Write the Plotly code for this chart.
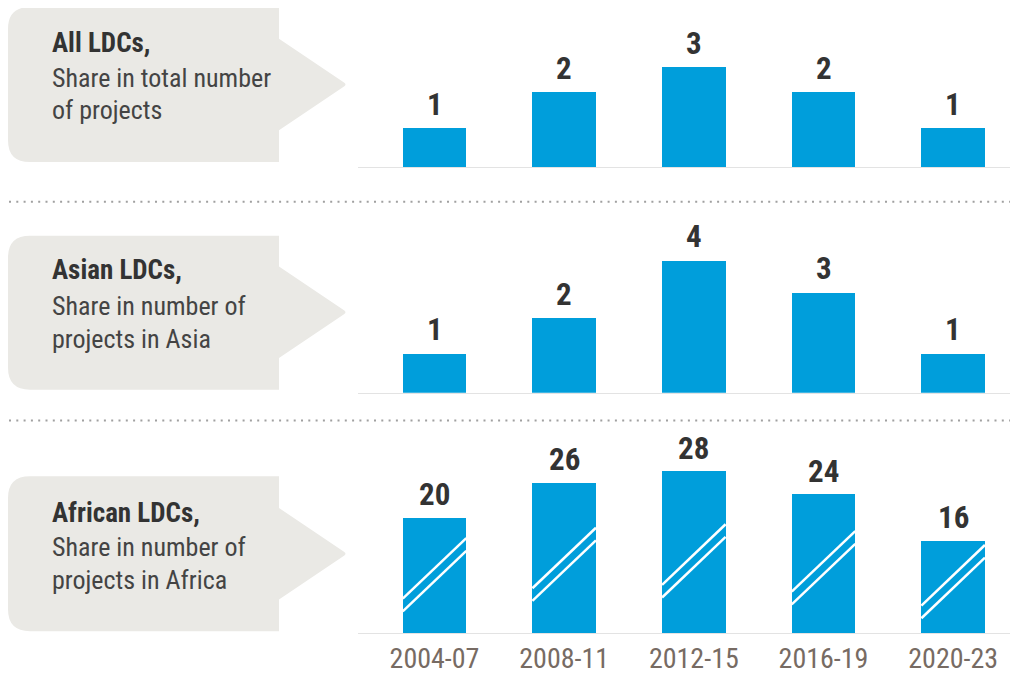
import plotly.graph_objects as go

# page body has an 8px margin: the figure is drawn from (8, 8) of the window
OFF = 8
W, H = 1018 - OFF, 675 - OFF

# ---------------- data ----------------
periods = ["2004-07", "2008-11", "2012-15", "2016-19", "2020-23"]
all_ldcs = [1.1, 2.1, 2.8, 2.1, 1.1]
asian_ldcs = [1.1, 2.1, 3.7, 2.8, 1.1]
african_ldcs = [20, 26, 28, 24, 16]
all_labels = ["1", "2", "3", "2", "1"]
asian_labels = ["1", "2", "4", "3", "1"]
african_labels = ["20", "26", "28", "24", "16"]

panel_titles = ["All LDCs,", "Asian LDCs,", "African LDCs,"]
panel_sub1 = ["Share in total number", "Share in number of", "Share in number of"]
panel_sub2 = ["of projects", "projects in Asia", "projects in Africa"]

# ---------------- style ----------------
BLUE = "#009EDB"
CALLOUT = "#EAE9E5"
DARK = "#333333"
SUB = "#444444"
TICK = "#776b63"
FONT = "Liberation Sans Narrow, Roboto Condensed, Arial Narrow, Roboto, sans-serif"


def px(x):
    return (x - OFF) / W


def py(y):
    return 1 - (y - OFF) / H


fig = go.Figure()

series = [all_ldcs, asian_ldcs, african_ldcs]
labels = [all_labels, asian_labels, african_labels]
# (top px, baseline px, px per unit) in window pixels
panels = [(8, 168, 36.0), (235, 395, 36.0), (440, 637, 5.8)]

xrange = [-0.59, 4.50]
for i, (vals, labs) in enumerate(zip(series, labels)):
    k = i + 1
    fig.add_trace(go.Bar(
        x=list(range(len(periods))), y=vals, marker=dict(color=BLUE, line=dict(width=0)),
        width=0.49, xaxis=f"x{k}", yaxis=f"y{k}", hoverinfo="skip", showlegend=False,
    ))
    top, base, scale = panels[i]
    ymax = (base - top) / scale
    xa = dict(domain=[px(358), 1], range=xrange, showgrid=False, zeroline=False,
              showline=True, linecolor="#e3e3e3", linewidth=1, ticks="",
              anchor=f"y{k}", fixedrange=True)
    if i == 2:
        xa.update(tickmode="array", tickvals=list(range(len(periods))), ticktext=periods,
                  tickfont=dict(family=FONT, size=28, color=TICK), showticklabels=True)
    else:
        xa.update(showticklabels=False)
    ya = dict(domain=[py(base), py(top)], range=[0, ymax], visible=False,
              anchor=f"x{k}", fixedrange=True)
    fig.layout[f"xaxis{k}" if k > 1 else "xaxis"] = xa
    fig.layout[f"yaxis{k}" if k > 1 else "yaxis"] = ya
    for j, (v, t) in enumerate(zip(vals, labs)):
        fig.add_annotation(x=j, y=v, xref=f"x{k}", yref=f"y{k}", text=t, showarrow=False,
                           yanchor="bottom", yshift=3,
                           font=dict(family=FONT, size=31, color=DARK, weight="bold"))

# break marks on African bars (decorative)
for j, v in enumerate(african_ldcs):
    y0 = 0.3 * v
    for off in (0.0, -2.2):
        fig.add_shape(type="line", xref="x3", yref="y3",
                      x0=j - 0.245, x1=j + 0.245, y0=y0 + off, y1=y0 + off + 10.5,
                      line=dict(color="white", width=2.5), layer="above")

# callouts
callouts = [(7, 163, 85), (237, 392, 314), (479, 635, 557)]
L, R, TIPX, HALF, RAD = 8, 279, 347, 46, 22
for (T, B, M) in callouts:
    path = (f"M {px(L+RAD)},{py(T)} L {px(R)},{py(T)} L {px(R)},{py(M-HALF)} "
            f"L {px(TIPX-3)},{py(M-2)} Q {px(TIPX)},{py(M)} {px(TIPX-3)},{py(M+2)} "
            f"L {px(R)},{py(M+HALF)} L {px(R)},{py(B)} L {px(L+RAD)},{py(B)} "
            f"Q {px(L)},{py(B)} {px(L)},{py(B-RAD)} L {px(L)},{py(T+RAD)} "
            f"Q {px(L)},{py(T)} {px(L+RAD)},{py(T)} Z")
    fig.add_shape(type="path", path=path, xref="paper", yref="paper",
                  fillcolor=CALLOUT, line=dict(width=0), layer="below")

line_centers = [(43.5, 78.5, 111.0), (271.5, 307.5, 340.5), (516, 550.5, 583.5)]
for i in range(3):
    c0, c1, c2 = line_centers[i]
    for txt, c, bold in ((panel_titles[i], c0, True), (panel_sub1[i], c1, False),
                          (panel_sub2[i], c2, False)):
        fig.add_annotation(x=px(50), y=py(c), xref="paper", yref="paper", text=txt,
                           showarrow=False, xanchor="left", yanchor="middle",
                           font=dict(family=FONT, size=27 if bold else 26,
                                     color=DARK if bold else SUB,
                                     weight="bold" if bold else "normal"))

# dotted separators
for ysep in (203, 423):
    fig.add_shape(type="line", xref="paper", yref="paper", x0=px(9), x1=1,
                  y0=py(ysep), y1=py(ysep),
                  line=dict(color="#a0a0a0", width=2, dash="2px,5.3px"))

fig.update_layout(width=W, height=H, margin=dict(l=0, r=0, t=0, b=0),
                  paper_bgcolor="white", plot_bgcolor="white", bargap=0,
                  font=dict(family=FONT))

fig.write_html("out.html")
